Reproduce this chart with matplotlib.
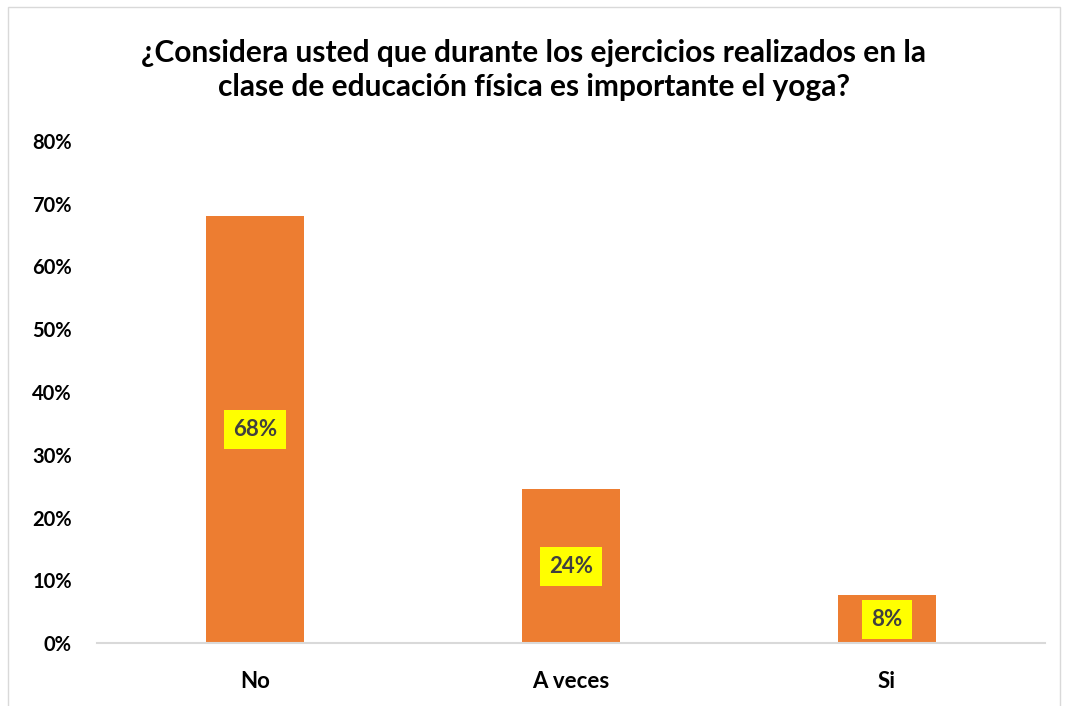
import matplotlib
matplotlib.use("Agg")
import matplotlib.pyplot as plt
from matplotlib.patches import Rectangle

categories = ["No", "A veces", "Si"]
values = [0.68, 0.245, 0.076]
labels = ["68%", "24%", "8%"]
yticks = [0, 0.1, 0.2, 0.3, 0.4, 0.5, 0.6, 0.7, 0.8]
ytick_labels = ["0%", "10%", "20%", "30%", "40%", "50%", "60%", "70%", "80%"]
title = "¿Considera usted que durante los ejercicios realizados en la\nclase de educación física es importante el yoga?"

plt.rcParams['font.family'] = ['Lato', 'DejaVu Sans']

fig = plt.figure(figsize=(10.67, 7.06), dpi=100)
ax = fig.add_axes([97 / 1067, 1 - 643 / 706, 948 / 1067, (643 - 141) / 706])

x = range(len(categories))
bars = ax.bar(x, values, width=0.31, color='#ED7D31')

for b, lab in zip(bars, labels):
    ax.text(b.get_x() + b.get_width() / 2, b.get_height() / 2, lab,
            ha='center', va='center', fontsize=16, fontweight='bold', color='#404040',
            bbox=dict(boxstyle='square,pad=0.4', fc='#FFFF00', ec='none'))

ax.set_xlim(-0.5, 2.5)
ax.set_ylim(0, 0.8)
ax.set_yticks(yticks)
ax.set_yticklabels(ytick_labels, fontsize=14.5, fontweight='bold')
ax.set_xticks(list(x))
ax.set_xticklabels(categories, fontsize=16, fontweight='bold')
ax.tick_params(axis='x', length=0, pad=20)
ax.tick_params(axis='y', length=0, pad=18)
for s in ['top', 'right', 'left']:
    ax.spines[s].set_visible(False)
ax.spines['bottom'].set_color('#D9D9D9')
ax.spines['bottom'].set_linewidth(1.5)

fig.text(0.5, 1 - 70 / 706, title, ha='center', va='center', fontsize=21.5,
         fontweight='bold', linespacing=1.25)

fig.patches.append(Rectangle((8 / 1067, -0.01), 1052 / 1067, 1 - 7 / 706 + 0.01,
                             transform=fig.transFigure, fill=False, ec='#D9D9D9', lw=1))

fig.savefig("out.png", dpi=100)
